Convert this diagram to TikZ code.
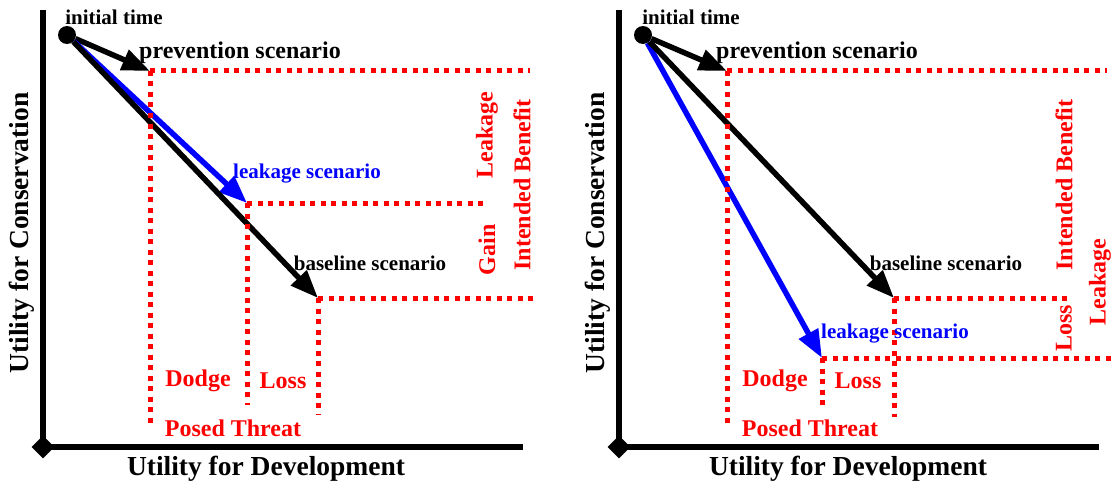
\documentclass[tikz,border=0pt]{standalone}
\usepackage{fontspec}
\setmainfont{Liberation Serif}
\usetikzlibrary{arrows.meta,positioning,shapes.geometric}

\begin{document}
\begin{tikzpicture}[x=1pt, y=-1pt,
  axis/.style={line width=6pt},
  origin/.style={diamond, fill=black, minimum size=23pt, inner sep=0pt},
  start/.style={circle, fill=black, minimum size=18pt, inner sep=0pt},
  thr/.style={red, line width=5pt, dash pattern=on 5pt off 5.5pt},
  arr/.style={line width=5.5pt, -{Triangle[length=28pt,width=21pt]}},
  lbl/.style={inner sep=0pt, font=\fontsize{21}{23}\selectfont\bfseries},
  biglbl/.style={inner sep=0pt, font=\fontsize{24}{26}\selectfont\bfseries},
  rlbl/.style={biglbl, text=red},
  axlbl/.style={inner sep=0pt, font=\fontsize{27.5}{30}\selectfont\bfseries}]
\useasboundingbox (0,0) rectangle (1112,487);

% Left
\node[origin] (o1) at (43,447) {};
\coordinate (ytop1) at (43,10);
\coordinate (xend1) at (523,447);
\draw[axis] (ytop1) -- (o1.center) -- (xend1);
\node[start] (it1) at (67,35) {};
\coordinate (prev1) at (150,71);
\coordinate (leak1) at (247,203);
\coordinate (base1) at (318,298);
\draw[arr] (it1) -- (prev1);
\draw[arr, blue] (it1) -- (leak1);
\draw[arr] (it1) -- (base1);
\draw[thr] (prev1) -- (530,71);
\draw[thr] (prev1) -- (150,425);
\draw[thr] (leak1) -- (488,203);
\draw[thr] (leak1) -- (247,405);
\draw[thr] (base1) -- (535,298);
\draw[thr] (base1) -- (318,415);
\node[lbl] (t1) at (114,17) {initial time};
\node[biglbl] (p1) at (240,53) {prevention scenario};
\node[lbl, text=blue] (l1) at (307,174) {leakage scenario};
\node[lbl] (b1) at (370,263) {baseline scenario};
\node[rlbl] (dod1) at (198,381) {Dodge};
\node[rlbl] (los1) at (283,381) {Loss};
\node[rlbl] (pt1) at (233,428) {Posed Threat};
\node[rlbl, rotate=90] (lk1) at (487,135) {Leakage};
\node[rlbl, rotate=90] (gn1) at (487,250) {Gain};
\node[rlbl, rotate=90] (ib1) at (522,185) {Intended Benefit};
\node[axlbl] (xl1) at (266,469) {Utility for Development};
\node[axlbl, rotate=90] (yl1) at (22,233) {Utility for Conservation};

% Right
\node[origin] (o2) at (619,447) {};
\coordinate (ytop2) at (619,10);
\coordinate (xend2) at (1099,447);
\draw[axis] (ytop2) -- (o2.center) -- (xend2);
\node[start] (it2) at (643,35) {};
\coordinate (prev2) at (727,71);
\coordinate (leak2) at (822,358);
\coordinate (base2) at (894,298);
\draw[arr] (it2) -- (prev2);
\draw[arr, blue] (it2) -- (leak2);
\draw[arr] (it2) -- (base2);
\draw[thr] (prev2) -- (1107,71);
\draw[thr] (prev2) -- (727,427);
\draw[thr] (leak2) -- (1112,358);
\draw[thr] (leak2) -- (822,405);
\draw[thr] (base2) -- (1070,298);
\draw[thr] (base2) -- (894,417);
\node[lbl] (t2) at (691,17) {initial time};
\node[biglbl] (p2) at (817,53) {prevention scenario};
\node[lbl, text=blue] (l2) at (895,334) {leakage scenario};
\node[lbl] (b2) at (946,263) {baseline scenario};
\node[rlbl] (dod2) at (775,381) {Dodge};
\node[rlbl] (los2) at (858,381) {Loss};
\node[rlbl] (pt2) at (810,428) {Posed Threat};
\node[rlbl, rotate=90] (ib2) at (1064,185) {Intended Benefit};
\node[rlbl, rotate=90] (ls2) at (1064,328) {Loss};
\node[rlbl, rotate=90] (lk2) at (1100,282) {Leakage};
\node[axlbl] (xl2) at (848,469) {Utility for Development};
\node[axlbl, rotate=90] (yl2) at (598,233) {Utility for Conservation};
\end{tikzpicture}
\end{document}
